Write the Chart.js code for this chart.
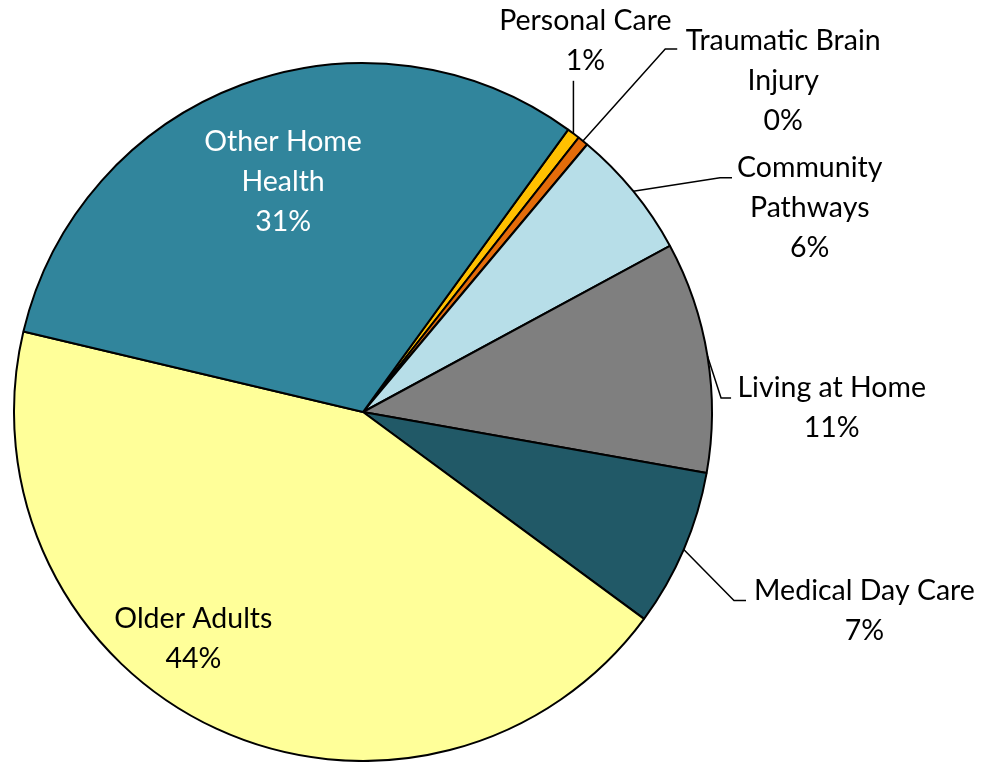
<!DOCTYPE html>
<html>
<head>
<meta charset="utf-8">
<title>Program share</title>
<script src="https://cdn.jsdelivr.net/npm/chart.js@4/dist/chart.umd.min.js"></script>
<style>
  html, body { margin: 0; padding: 0; background: #fff; }
  #wrap { width: 982px; height: 762px; }
</style>
</head>
<body>
<div id="wrap"><canvas id="chartPie" width="982" height="762"></canvas></div>
<script>
// Data (in percent)
const categories = ['Personal Care', 'Traumatic Brain Injury', 'Community Pathways', 'Living at Home', 'Medical Day Care', 'Older Adults', 'Other Home Health'];
const shares = [0.6, 0.5, 6.0, 10.7, 7.3, 43.6, 31.3];
const labelLines = [
  ['Personal Care', '1%'],
  ['Traumatic Brain', 'Injury', '0%'],
  ['Community', 'Pathways', '6%'],
  ['Living at Home', '11%'],
  ['Medical Day Care', '7%'],
  ['Older Adults', '44%'],
  ['Other Home', 'Health', '31%']
];

const sliceColors = ['#FFC000', '#E46C0A', '#B7DEE8', '#7F7F7F', '#215967', '#FFFF99', '#31859C'];

// label placement, in units of the pie radius from its centre
// lx/ly = centre of text block, ex/ey = where the leader line ends, tail = short horizontal bit
const labelLayout = [
  { lx: 0.637, ly: -1.063, ex: 0.606, ey: -0.949, tail: 0, color: '#000' },
  { lx: 1.204, ly: -0.949, ex: 0.866, ey: -1.040, tail: 12, color: '#000' },
  { lx: 1.280, ly: -0.586, ex: 1.023, ey: -0.671, tail: 12, color: '#000' },
  { lx: 1.343, ly: -0.011, ex: 1.026, ey: -0.040, tail: 10, color: '#000' },
  { lx: 1.437, ly: 0.569, ex: 1.063, ey: 0.540, tail: 12, color: '#000' },
  { lx: -0.486, ly: 0.651, color: '#000' },
  { lx: -0.229, ly: -0.660, color: '#fff' }
];

const labelPlugin = {
  id: 'pieLabels',
  afterDraw(chart) {
    const ctx = chart.ctx;
    const arcs = chart.getDatasetMeta(0).data;
    ctx.save();
    ctx.font = '28.5px Lato, "Open Sans", sans-serif';
    ctx.textAlign = 'center';
    ctx.textBaseline = 'middle';
    ctx.lineWidth = 1.5;
    ctx.strokeStyle = '#000';
    arcs.forEach((arc, i) => {
      const lay = labelLayout[i];
      const r = arc.outerRadius;
      const cx = arc.x, cy = arc.y;
      // leader line
      if (lay.ex !== undefined) {
        const mid = (arc.startAngle + arc.endAngle) / 2;
        const ax = cx + Math.cos(mid) * r;
        const ay = cy + Math.sin(mid) * r;
        const ex = cx + lay.ex * r;
        const ey = cy + lay.ey * r;
        ctx.beginPath();
        ctx.moveTo(ax, ay);
        if (lay.tail) {
          ctx.lineTo(ex, ey);
          ctx.lineTo(ex + lay.tail, ey);
        } else {
          ctx.lineTo(ax, ey);
        }
        ctx.stroke();
      }
      // text
      const lines = labelLines[i];
      const lh = 40;
      const x = cx + lay.lx * r;
      const y0 = cy + lay.ly * r - (lines.length - 1) * lh / 2;
      ctx.fillStyle = lay.color;
      lines.forEach((t, k) => ctx.fillText(t, x, y0 + k * lh));
    });
    ctx.restore();
  }
};

new Chart(document.getElementById('chartPie'), {
  type: 'pie',
  data: {
    labels: categories,
    datasets: [{
      data: shares,
      backgroundColor: sliceColors,
      borderColor: '#000',
      borderWidth: 2,
      borderAlign: 'center'
    }]
  },
  options: {
    responsive: false,
    animation: false,
    rotation: 36.0,
    layout: { padding: { left: 13, right: 269, top: 62, bottom: 0 } },
    plugins: { legend: { display: false }, tooltip: { enabled: false } }
  },
  plugins: [labelPlugin]
});
</script>
</body>
</html>
